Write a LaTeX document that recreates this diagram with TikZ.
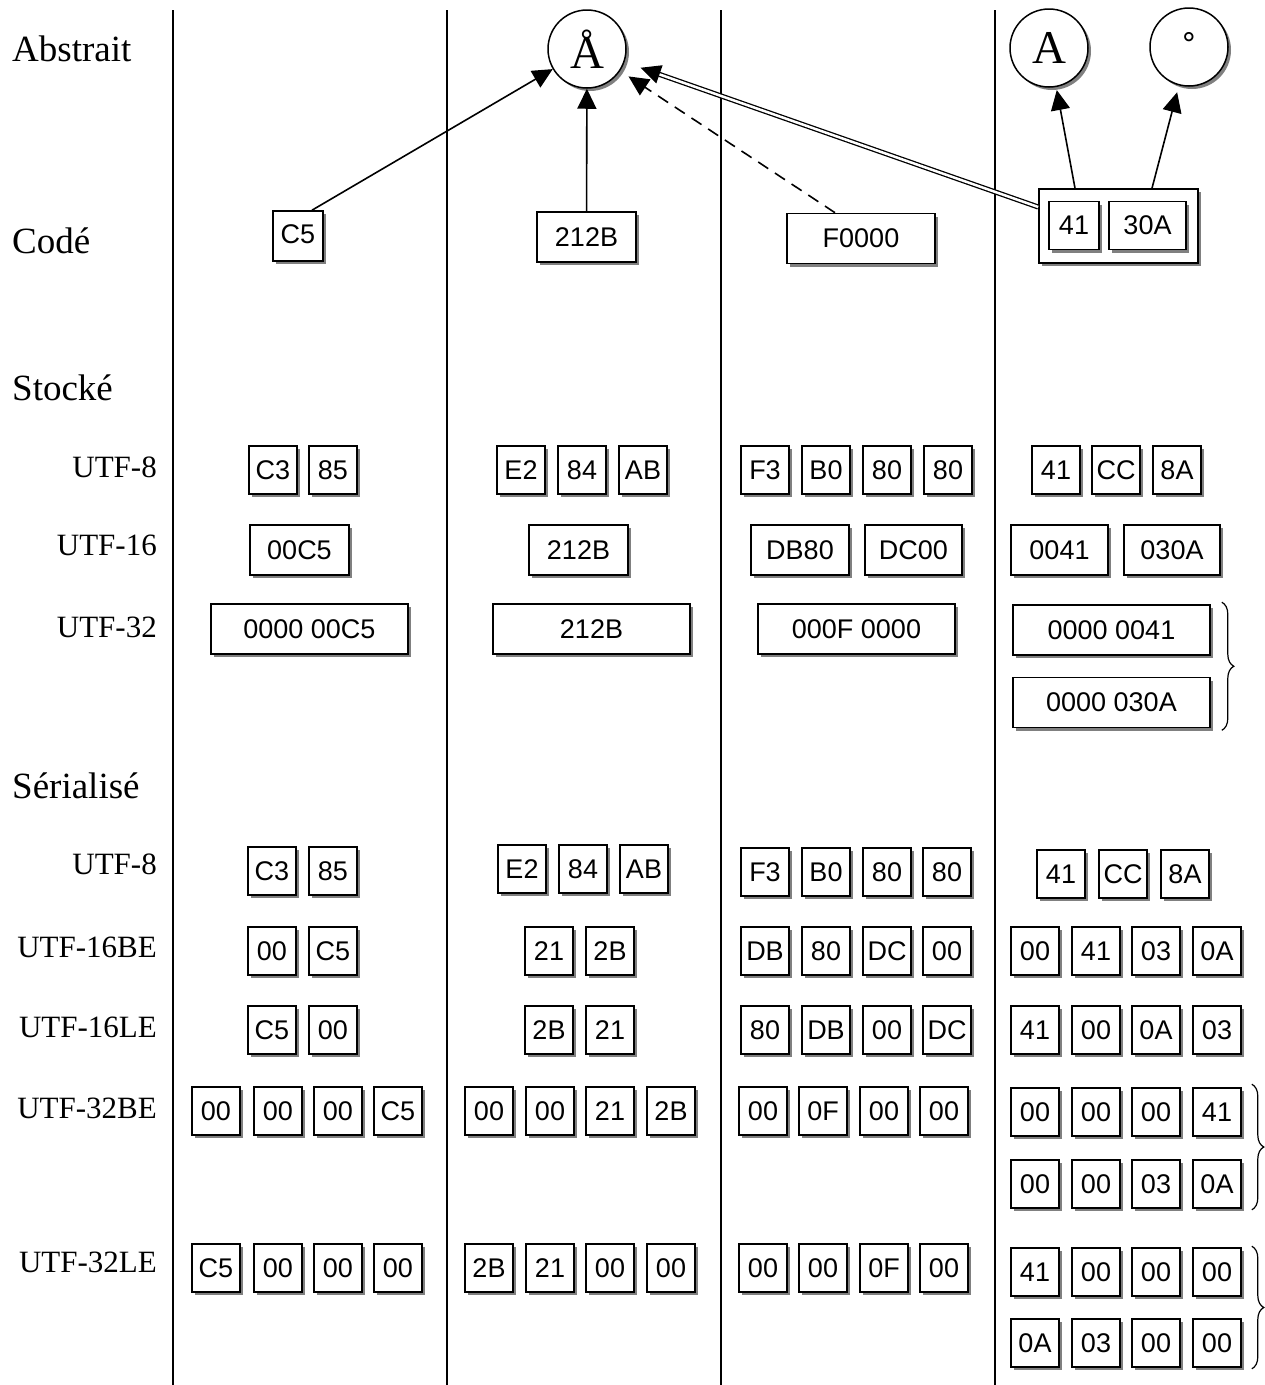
\documentclass[tikz,border=0pt]{standalone}
\usepackage{fontspec}
\setmainfont{Liberation Serif}
\newfontfamily\boxfont{Liberation Sans}
\usetikzlibrary{arrows.meta,shadows,decorations.pathreplacing,calc}
\begin{document}
\begin{tikzpicture}[x=1pt,y=-1pt,
  shad/.style={drop shadow={shadow xshift=3pt,shadow yshift=-3pt,fill=black!50,opacity=1}},
  bx/.style={draw,line width=1.6pt,fill=white,inner sep=0pt,minimum width=#1,minimum height=48pt,
     font=\boxfont\fontsize{27}{27}\selectfont,shad},
  bx/.default=48pt,
  tall/.style={minimum height=50pt},
  circ/.style={draw,circle,line width=1.5pt,fill=white,minimum size=78pt,inner sep=0pt,
     font=\fontsize{47}{47}\selectfont,shad},
  lab/.style={anchor=base west,inner sep=0pt,font=\fontsize{37}{37}\selectfont},
  sublab/.style={anchor=base east,inner sep=0pt,font=\fontsize{31}{31}\selectfont},
  arr/.style={line width=1.6pt,-{Triangle[length=20pt,width=19pt]}},
  dsh/.style={dash pattern=on 12pt off 8pt},
  dbl/.style={double,double distance=2.5pt,line width=1.3pt,-{Triangle[length=20pt,width=19pt]}},
  brc/.style={line width=1.2pt,decorate,decoration={brace,amplitude=12pt}}
]
\useasboundingbox (0,0) rectangle (1265,1385);

% column separators
\foreach \x in {173,447,721,995} \draw[line width=1.8pt] (\x,10) -- (\x,1385);

% left labels
\node[lab] (lAbs) at (12,61) {Abstrait};
\node[lab] (lCod) at (12,253) {Codé};
\node[lab] (lSto) at (12,400) {Stocké};
\node[sublab] (lS8) at (157,477) {UTF-8};
\node[sublab] (lS16) at (157,555) {UTF-16};
\node[sublab] (lS32) at (157,637) {UTF-32};
\node[lab] (lSer) at (12,798) {Sérialisé};
\node[sublab] (lR8) at (157,874) {UTF-8};
\node[sublab] (lR16B) at (157,957) {UTF-16BE};
\node[sublab] (lR16L) at (157,1037) {UTF-16LE};
\node[sublab] (lR32B) at (157,1118) {UTF-32BE};
\node[sublab] (lR32L) at (157,1272) {UTF-32LE};

% abstract characters
\node[circ] (aAr) at (587,49) {Å};
\node[circ] (aA) at (1049,48) {A};
\node[circ] (aRing) at (1189,47) {\char"02DA\vphantom{Å}};

% coded
\node[bx=50pt,tall] (cC5) at (298,236) {\raisebox{4pt}{C5}};
\node[bx=99pt,tall] (c212B) at (586.5,237) {212B};
\node[bx=148pt,tall] (cF) at (861,238.5) {\raisebox{-3pt}{F0000}};
\node[draw,line width=1.6pt,fill=white,minimum width=159pt,minimum height=74pt,inner sep=0pt,shad] (cgrp) at (1118.5,226) {};
\node[bx=50pt] (c41) at (1074,225.5) {41};
\node[bx=77pt] (c30A) at (1147.5,225.5) {30A};

% arrows
\draw[arr] ([xshift=14pt]cC5.north) -- (aAr);
\draw[arr] (c212B) -- (aAr);
\draw[arr,dsh,shorten >=10pt] ([xshift=-26pt]cF.north) -- (aAr);
\draw[dbl,shorten >=17pt] ([yshift=19pt]cgrp.west) -- (aAr);
\draw[arr,shorten >=3pt] ([xshift=-43.5pt]cgrp.north) -- (aA);
\draw[arr,shorten >=7pt] ([xshift=33.5pt]cgrp.north) -- (aRing);

% stored UTF-8
\foreach \x/\t [count=\i] in {273/C3,333/85,521/E2,582/84,643/AB,765/F3,826/B0,887/80,948/80,1056/41,1116/CC,1177/8A}
  \node[bx] (s8n\i) at (\x,470) {\t};
% stored UTF-16
\node[bx=99pt,tall] (s16a) at (299.5,550) {00C5};
\node[bx=99pt,tall] (s16b) at (578.5,550) {212B};
\node[bx=98pt,tall] (s16c1) at (800,550) {DB80};
\node[bx=97pt,tall] (s16c2) at (913.5,550) {DC00};
\node[bx=97pt,tall] (s16d1) at (1059.5,550) {0041};
\node[bx=96pt,tall] (s16d2) at (1172,550) {030A};
% stored UTF-32
\node[bx=197pt,tall] (s32a) at (309.5,629) {0000 00C5};
\node[bx=197pt,tall] (s32b) at (591.5,629) {212B};
\node[bx=197pt,tall] (s32c) at (856.5,629) {000F 0000};
\node[bx=197pt,tall] (s32d1) at (1111.5,630) {0000 0041};
\node[bx=197pt,tall] (s32d2) at (1111.5,702.5) {0000 030A};
\draw[brc] ([xshift=11pt,yshift=2pt]s32d1.north east) -- ([xshift=11pt,yshift=-2pt]s32d2.south east);

% serialized UTF-8
\foreach \x/\y/\t [count=\i] in {272/871/C3,333/871/85,522/869/E2,583/869/84,644/869/AB,765/872/F3,826/872/B0,887/872/80,947/872/80,1061/874/41,1123/874/CC,1185/874/8A}
  \node[bx] (r8n\i) at (\x,\y) {\t};
% UTF-16BE
\foreach \x/\t [count=\i] in {272/00,333/C5,549/21,610/2B,765/DB,826/80,887/DC,947/00,1035/00,1096/41,1156/03,1217/0A}
  \node[bx] (r16bn\i) at (\x,951) {\t};
% UTF-16LE
\foreach \x/\t [count=\i] in {272/C5,333/00,549/2B,610/21,765/80,826/DB,887/00,947/DC,1035/41,1096/00,1156/0A,1217/03}
  \node[bx] (r16ln\i) at (\x,1030) {\t};
% UTF-32BE
\foreach \x/\y/\t [count=\i] in {216/1111/00,278/1111/00,338/1111/00,398/1111/C5,489/1111/00,550/1111/00,610/1111/21,671/1111/2B,763/1111/00,823/1111/0F,884/1111/00,944/1111/00,1035/1112/00,1096/1112/00,1156/1112/00,1217/1112/41,1035/1184/00,1096/1184/00,1156/1184/03,1217/1184/0A}
  \node[bx] (r32bn\i) at (\x,\y) {\t};
\draw[brc] ([xshift=10pt,yshift=3pt]r32bn16.north east) -- ([xshift=10pt,yshift=-1pt]r32bn20.south east);
% UTF-32LE
\foreach \x/\y/\t [count=\i] in {216/1268/C5,278/1268/00,338/1268/00,398/1268/00,489/1268/2B,550/1268/21,610/1268/00,671/1268/00,763/1268/00,823/1268/00,884/1268/0F,944/1268/00,1035/1272/41,1096/1272/00,1156/1272/00,1217/1272/00,1035/1343/0A,1096/1343/03,1156/1343/00,1217/1343/00}
  \node[bx] (r32ln\i) at (\x,\y) {\t};
\draw[brc] ([xshift=10pt,yshift=1pt]r32ln16.north east) -- ([xshift=10pt,yshift=-1pt]r32ln20.south east);
\end{tikzpicture}
\end{document}
